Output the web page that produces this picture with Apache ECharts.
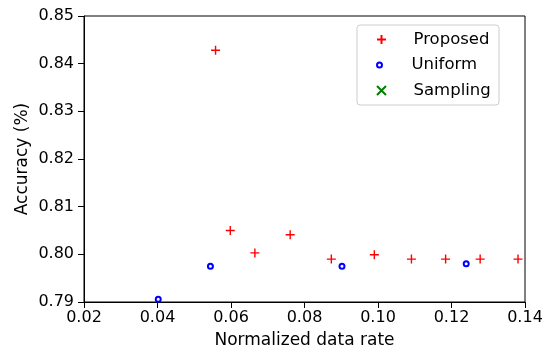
<!DOCTYPE html>
<html>
<head>
<meta charset="utf-8">
<script src="https://cdn.jsdelivr.net/npm/echarts@6/dist/echarts.min.js"></script>
<style>
  html, body { margin: 0; padding: 0; background: #fff; }
  #chart { width: 552px; height: 352px; }
</style>
</head>
<body>
<div id="chart"></div>
<script>
// data
var proposedX = [0.0558, 0.0598, 0.0665, 0.0761, 0.0873, 0.0990, 0.1091, 0.1184, 0.1278, 0.1381];
var proposedY = [0.8428, 0.8050, 0.8003, 0.8041, 0.7990, 0.7999, 0.7990, 0.7990, 0.7990, 0.7990];
var uniformX = [0.0402, 0.0544, 0.0902, 0.1240];
var uniformY = [0.7906, 0.7975, 0.7975, 0.7980];
var samplingX = [];
var samplingY = [];
var seriesNames = ['Proposed', 'Uniform', 'Sampling'];

var font = 'DejaVu Sans';
var plusPath = 'path://M5 0 L5 10 M0 5 L10 5';
var crossPath = 'path://M0 0 L10 10 M10 0 L0 10';

function pairs(xs, ys) {
    return xs.map(function (x, i) { return [x, ys[i]]; });
}

function oneLegend(name, top, h) {
    return {
        data: [name],
        left: 376,
        top: top,
        padding: 0,
        itemWidth: 54,
        itemHeight: h,
        textStyle: { fontFamily: font, fontSize: 16.5, color: '#000' }
    };
}

var myChart = echarts.init(document.getElementById('chart'));

var option = {
    animation: false,
    grid: {
        left: 84,
        right: 27,
        top: 16,
        bottom: 50,
        outerBoundsMode: 'none',
        containLabel: false,
        show: true,
        borderColor: '#000',
        borderWidth: 1
    },
    legend: [
        oneLegend(seriesNames[0], 31, 9),
        oneLegend(seriesNames[1], 56.5, 5),
        oneLegend(seriesNames[2], 82, 9)
    ],
    graphic: [{
        type: 'rect',
        shape: { x: 357, y: 25, width: 142, height: 80, r: 3 },
        style: { fill: 'rgba(255,255,255,0.8)', stroke: '#cccccc', lineWidth: 1 },
        z: 1
    }],
    xAxis: {
        type: 'value',
        min: 0.02,
        max: 0.14,
        interval: 0.02,
        name: 'Normalized data rate',
        nameLocation: 'middle',
        nameGap: 30,
        nameMoveOverlap: false,
        nameTextStyle: { fontFamily: font, fontSize: 17, color: '#000' },
        axisLine: { show: true, lineStyle: { color: '#000', width: 1 } },
        axisTick: { show: true, length: 6, lineStyle: { color: '#000' } },
        axisLabel: {
            margin: 8,
            fontFamily: font,
            fontSize: 16,
            color: '#000',
            formatter: function (v) { return v.toFixed(2); }
        },
        splitLine: { show: false }
    },
    yAxis: {
        type: 'value',
        min: 0.79,
        max: 0.85,
        interval: 0.01,
        name: 'Accuracy (%)',
        nameLocation: 'middle',
        nameGap: 53,
        nameMoveOverlap: false,
        nameTextStyle: { fontFamily: font, fontSize: 17, color: '#000' },
        axisLine: { show: true, lineStyle: { color: '#000', width: 1 } },
        axisTick: { show: true, length: 6, lineStyle: { color: '#000' } },
        axisLabel: {
            margin: 10,
            fontFamily: font,
            fontSize: 16,
            color: '#000',
            formatter: function (v) { return v.toFixed(2); }
        },
        splitLine: { show: false }
    },
    series: [
        {
            name: seriesNames[0],
            type: 'scatter',
            symbol: plusPath,
            symbolSize: 9,
            itemStyle: { color: '#ff0000', borderColor: '#ff0000', borderWidth: 1.4, opacity: 1 },
            data: pairs(proposedX, proposedY),
            z: 3
        },
        {
            name: seriesNames[1],
            type: 'scatter',
            symbol: 'emptyCircle',
            symbolSize: 5,
            itemStyle: { color: '#0000ff', borderColor: '#0000ff', borderWidth: 1.3, opacity: 1 },
            data: pairs(uniformX, uniformY),
            z: 3
        },
        {
            name: seriesNames[2],
            type: 'scatter',
            symbol: crossPath,
            symbolSize: 9,
            itemStyle: { color: '#008000', borderColor: '#008000', borderWidth: 1.3, opacity: 1 },
            data: pairs(samplingX, samplingY),
            z: 3
        }
    ]
};

myChart.setOption(option);
</script>
</body>
</html>
